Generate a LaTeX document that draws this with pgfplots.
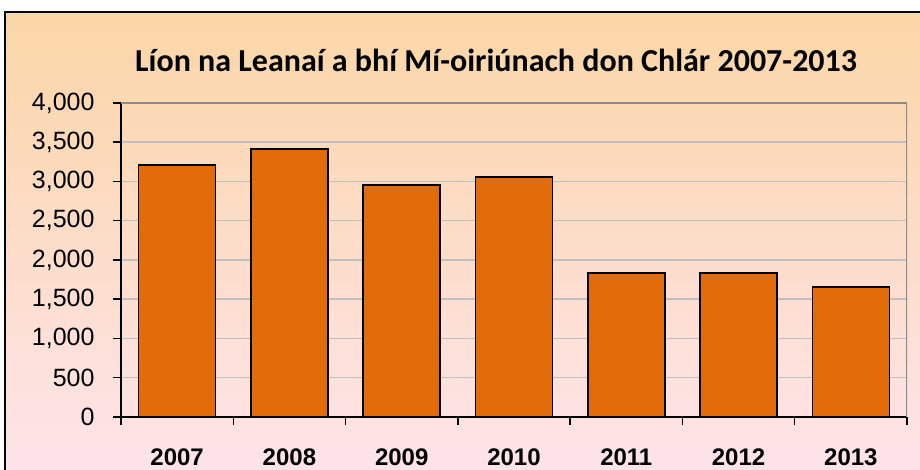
\documentclass[border=0pt]{standalone}
\usepackage{fontspec}
\setmainfont{Liberation Sans}
\newfontfamily\titlefont{Carlito}
\usepackage{pgfplots}
\pgfplotsset{compat=1.18}
\definecolor{barorange}{RGB}{227,108,10}
\definecolor{bgtop}{RGB}{251,214,166}
\definecolor{bgbot}{RGB}{254,228,236}
\definecolor{gridgray}{RGB}{192,192,196}
\definecolor{bordergray}{RGB}{140,140,140}

\begin{document}
\begin{tikzpicture}[x=1pt,y=1pt]
\useasboundingbox (0,0) rectangle (920,470);
\begin{scope}
  \clip (0,0) rectangle (920,470);
  \draw[line width=1.5pt, top color=bgtop, bottom color=bgbot] (5,-10) rectangle (930,458);
\end{scope}
\node[font=\titlefont\bfseries\fontsize{32}{36}\selectfont, anchor=base] at (496,398)
  {Líon na Leanaí a bhí Mí-oiriúnach don Chlár 2007-2013};
\begin{axis}[
  at={(121pt,53pt)}, anchor=south west,
  width=786pt, height=314pt, scale only axis,
  xmin=-0.5, xmax=6.5, ymin=0, ymax=4000,
  ytick={0,500,...,4000},
  xtick={0,...,6}, xticklabels={2007,2008,2009,2010,2011,2012,2013},
  minor xtick={-0.5,0.5,...,6.5},
  tick align=outside, major tick length=8pt, minor tick length=8pt,
  major x tick style={draw=none},
  minor x tick style={black, line width=1.5pt},
  y tick style={black, line width=1.5pt},
  axis x line*=bottom, axis y line*=left,
  x axis line style={black, line width=2.5pt, -},
  y axis line style={black, line width=2pt, -},
  ymajorgrids, grid style={gridgray, line width=1.5pt},
  scaled y ticks=false,
  /pgf/number format/assume math mode=true,
  yticklabel style={font=\fontsize{25}{25}\selectfont, xshift=-15pt},
  xticklabel style={font=\fontsize{24}{24}\selectfont\bfseries, yshift=-20pt},
  ybar, bar width=77pt,
]
\addplot[fill=barorange, draw=black, line width=1.5pt] coordinates {
  (0,3210) (1,3415) (2,2955) (3,3055) (4,1835) (5,1835) (6,1655)
};
\draw[bordergray, line width=1.5pt] (rel axis cs:0,1) -- (rel axis cs:1,1) -- (rel axis cs:1,0);
\end{axis}
\end{tikzpicture}
\end{document}
